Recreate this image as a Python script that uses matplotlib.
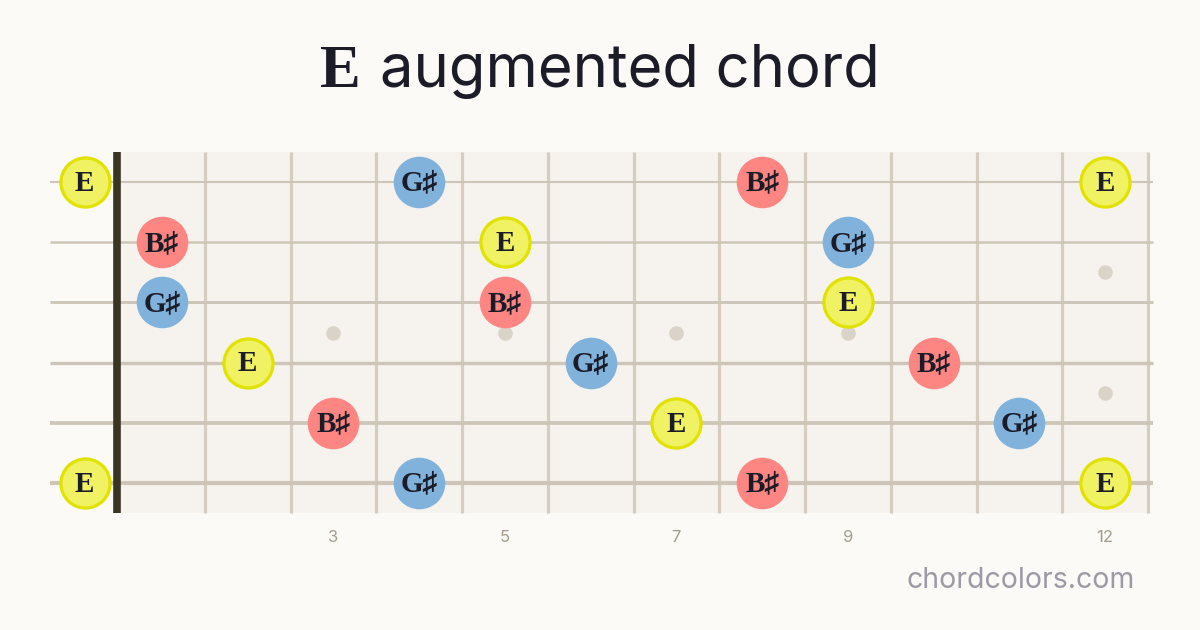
import matplotlib
matplotlib.use("Agg")
import matplotlib.pyplot as plt
from matplotlib.patches import Rectangle

# chord data
title_root = "E"
title_rest = "augmented chord"
num_frets = 12
string_nums = [1, 2, 3, 4, 5, 6]
inlay_frets = [3, 5, 7, 9]
double_inlay_fret = 12
fret_labels = [3, 5, 7, 9, 12]

note_strings = [1, 1, 1, 1, 2, 2, 2, 3, 3, 3, 4, 4, 4, 5, 5, 5, 6, 6, 6, 6]
note_frets = [0, 4, 8, 12, 1, 5, 9, 1, 5, 9, 2, 6, 10, 3, 7, 11, 0, 4, 8, 12]
note_names = ["E", "G♯", "B♯", "E", "B♯", "E", "G♯", "G♯", "B♯", "E",
              "E", "G♯", "B♯", "B♯", "E", "G♯", "E", "G♯", "B♯", "E"]

fills = {"E": "#f0f264", "G♯": "#80b2dc", "B♯": "#fd8683"}
edges = {"E": "#e2e200", "G♯": "#80b2dc", "B♯": "#fd8683"}

bg = "#fbfaf6"
board = "#f6f3ee"
fret_col = "#d5cdc0"
string_col = "#cdc5b8"

fig = plt.figure(figsize=(12, 6.3), dpi=100, facecolor=bg)
ax = fig.add_axes([0, 0, 1, 1])
ax.set_facecolor(bg)
# 1 fret = 85.75 px, 1 string = 60.2 px; nut at x=119px, top string at y=182px
ax.set_xlim(-119 / 85.75, (1200 - 119) / 85.75)
ax.set_ylim(1 + (630 - 182) / 60.2, 1 - 182 / 60.2)
ax.axis("off")

top = 1 - 30 / 60.2
bottom = 6 + 30 / 60.2
ax.add_patch(Rectangle((0, top), num_frets, bottom - top, facecolor=board,
                       edgecolor="none", zorder=0))

for f in range(1, num_frets + 1):
    ax.plot([f, f], [top, bottom], color=fret_col, lw=2.3, zorder=1,
            solid_capstyle="butt")

for f in inlay_frets:
    ax.scatter([f - 0.5], [3.5], s=110, color="#d9d4c7", zorder=1, lw=0)
ax.scatter([double_inlay_fret - 0.5] * 2, [2.5, 4.5], s=110, color="#d9d4c7",
           zorder=1, lw=0)

for i, s in enumerate(string_nums):
    ax.plot([-69 / 85.75, num_frets + 5 / 85.75], [s, s], color=string_col,
            lw=1.5 + 0.3 * i, zorder=2, solid_capstyle="butt")

ax.plot([-0.02, -0.02], [top, bottom], color="#3a3422", lw=5.5, zorder=3,
        solid_capstyle="butt")

for s, f, n in zip(note_strings, note_frets, note_names):
    x = -0.4 if f == 0 else f - 0.5
    lw = 2.3 if n == "E" else 0
    size = 1250 if n == "E" else 1380
    ax.scatter([x], [s], s=size, color=fills[n], edgecolors=edges[n],
               linewidths=lw, zorder=4)
    ax.text(x, s + 0.02, n, ha="center", va="center", fontsize=21,
            fontweight="bold", color="#1c1c28",
            family=["Liberation Serif", "DejaVu Serif"], zorder=5)

for f in fret_labels:
    ax.text(f - 0.5, 6 + 54 / 60.2, str(f), ha="center", va="center",
            fontsize=12, color="#a39d8e", family="Inter")

# title
fig.text(320 / 1200, 1 - 87 / 630, title_root, ha="left", va="baseline",
         fontsize=44, color="#1c1c28", family="Liberation Serif",
         fontweight="bold")
fig.text(380 / 1200, 1 - 87 / 630, title_rest, ha="left", va="baseline",
         fontsize=43, color="#1c1c28", family="Inter")

fig.text(1135 / 1200, 1 - 588 / 630, "chordcolors.com", ha="right",
         va="baseline", fontsize=20.5, color="#9b9aa6", family="Inter")

fig.savefig("out.png", dpi=100, facecolor=bg)
